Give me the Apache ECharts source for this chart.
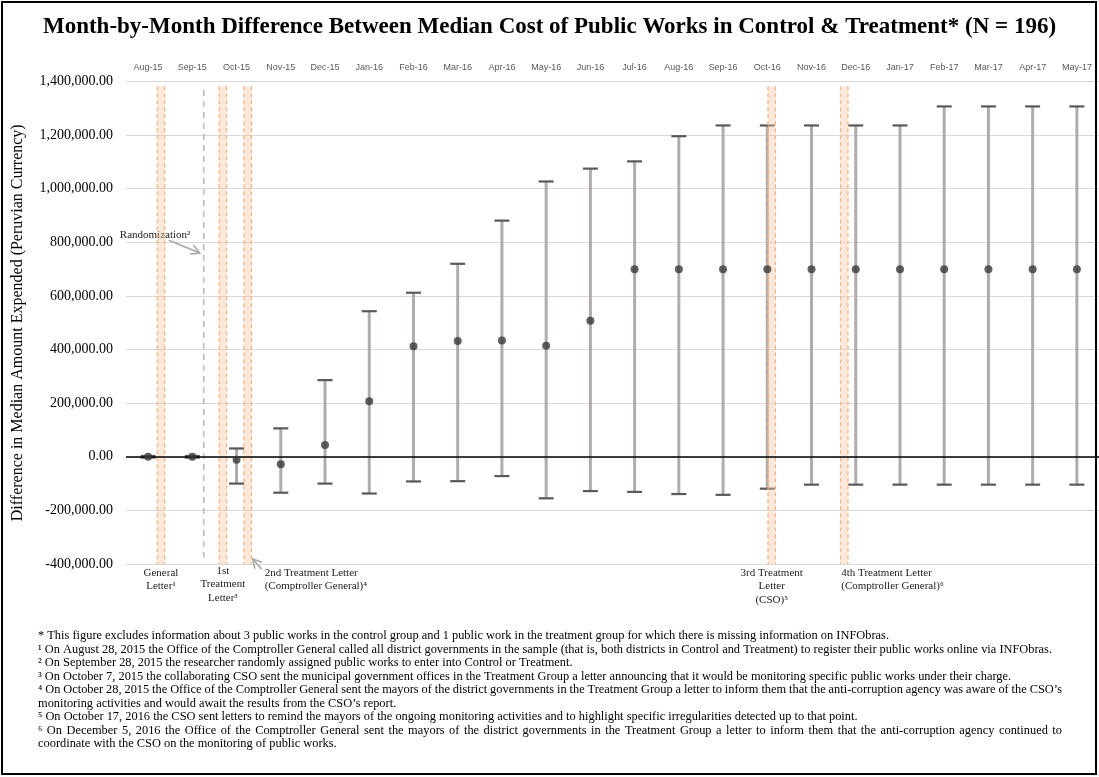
<!DOCTYPE html>
<html><head><meta charset="utf-8">
<script src="https://cdn.jsdelivr.net/npm/echarts@6/dist/echarts.min.js"></script>
<style>html,body{margin:0;padding:0;background:#fff}#c{width:1099px;height:777px}</style>
</head><body><div id="c"></div>
<script>
// ---------- data ----------
const months = ['Aug-15','Sep-15','Oct-15','Nov-15','Dec-15','Jan-16','Feb-16','Mar-16','Apr-16','May-16','Jun-16','Jul-16','Aug-16','Sep-16','Oct-16','Nov-16','Dec-16','Jan-17','Feb-17','Mar-17','Apr-17','May-17'];
const medianDiff = [0, 0, -11000, -28000, 44000, 207000, 412000, 432000, 434000, 414000, 507000, 700000, 700000, 700000, 700000, 700000, 700000, 700000, 700000, 700000, 700000, 700000];
const upperCI = [3000, 3000, 31000, 106000, 286000, 543000, 612000, 720000, 881000, 1027000, 1075000, 1102000, 1196000, 1236000, 1236000, 1236000, 1236000, 1236000, 1307000, 1307000, 1307000, 1307000];
const lowerCI = [-3000, -3000, -100000, -134000, -100000, -137000, -92000, -91000, -72000, -155000, -128000, -131000, -139000, -142000, -119000, -104000, -104000, -104000, -104000, -104000, -104000, -104000];
// event positions, in month-index units
const letterPos = [0.29, 1.69, 2.25, 14.10, 15.74];
const randomizationPos = 1.26;
const yMin = -400000, yMax = 1400000, yStep = 200000;

const footnotes = [
  ['* This figure excludes information about 3 public works in the control group and 1 public work in the treatment group for which there is missing information on INFObras.', false],
  ['\u00b9 On August 28, 2015 the Office of the Comptroller General called all district governments in the sample (that is, both districts in Control and Treatment) to register their public works online via INFObras.', false],
  ['\u00b2 On September 28, 2015 the researcher randomly assigned public works to enter into Control or Treatment.', false],
  ['\u00b3 On October 7, 2015 the collaborating CSO sent the municipal government offices in the Treatment Group a letter announcing that it would be monitoring specific public works under their charge.', false],
  ['\u2074 On October 28, 2015 the Office of the Comptroller General sent the mayors of the district governments in the Treatment Group a letter to inform them that the anti-corruption agency was aware of the CSO\u2019s', true],
  ['monitoring activities and would await the results from the CSO\u2019s report.', false],
  ['\u2075 On October 17, 2016 the CSO sent letters to remind the mayors of the ongoing monitoring activities and to highlight specific irregularities detected up to that point.', false],
  ['\u2076 On December 5, 2016 the Office of the Comptroller General sent the mayors of the district governments in the Treatment Group a letter to inform them that the anti-corruption agency continued to', true],
  ['coordinate with the CSO on the monitoring of public works.', false]
];

const SERIF = '"Liberation Serif", "Times New Roman", serif';
const chart = echarts.init(document.getElementById('c'), null, {renderer: 'canvas'});

const option = {
  animation: false,
  backgroundColor: '#fff',
  title: {
    text: 'Month-by-Month Difference Between Median Cost of Public Works in Control & Treatment* (N = 196)',
    left: 'center', top: 11,
    textStyle: {fontFamily: SERIF, fontWeight: 'bold', fontSize: 23, color: '#000'}
  },
  grid: {left: 126, top: 81.5, width: 974, height: 482.5},
  xAxis: [{
    type: 'category', data: months, position: 'top', boundaryGap: true,
    axisLine: {show: false}, axisTick: {show: false}, splitLine: {show: false},
    axisLabel: {color: '#595959', fontSize: 9, fontFamily: '"Liberation Sans", Arial, sans-serif', margin: 9, interval: 0}
  }, {
    type: 'value', min: -0.5, max: 21.5, show: false
  }],
  yAxis: {
    type: 'value', min: yMin, max: yMax, interval: yStep,
    name: 'Difference in Median Amount Expended (Peruvian Currency)',
    nameLocation: 'middle', nameGap: 100,
    nameTextStyle: {fontFamily: SERIF, fontSize: 16, color: '#000'},
    axisLine: {show: false}, axisTick: {show: false},
    axisLabel: {fontFamily: SERIF, fontSize: 14, color: '#000', margin: 13,
      formatter: v => v.toLocaleString('en-US', {minimumFractionDigits: 2, maximumFractionDigits: 2})},
    splitLine: {lineStyle: {color: '#d9d9d9', width: 1.2}}
  },
  series: [
    { // randomization dashed line
      type: 'custom', xAxisIndex: 1, z: 2, silent: true,
      data: [[randomizationPos, 0]],
      renderItem: (params, api) => {
        const t = api.coord([api.value(0), 1368000]);
        const b = api.coord([api.value(0), -376000]);
        return {type: 'line', shape: {x1: t[0], y1: t[1], x2: b[0], y2: b[1]},
          style: {stroke: '#a6a6a6', lineWidth: 1.2, lineDash: [6, 5]}};
      }
    },
    { // error bars
      type: 'custom', z: 3, silent: true,
      data: months.map((m, i) => [i, lowerCI[i], upperCI[i]]),
      encode: {x: 0, y: [1, 2]},
      renderItem: (params, api) => {
        const lo = api.coord([api.value(0), api.value(1)]);
        const hi = api.coord([api.value(0), api.value(2)]);
        const hw = 7.5;
        return {type: 'group', children: [
          {type: 'line', shape: {x1: lo[0], y1: lo[1], x2: hi[0], y2: hi[1]}, style: {stroke: '#b0acac', lineWidth: 3}},
          {type: 'line', shape: {x1: hi[0] - hw, y1: hi[1], x2: hi[0] + hw, y2: hi[1]}, style: {stroke: '#595959', lineWidth: 2.2}},
          {type: 'line', shape: {x1: lo[0] - hw, y1: lo[1], x2: lo[0] + hw, y2: lo[1]}, style: {stroke: '#595959', lineWidth: 2.2}}
        ]};
      }
    },
    { // letter bands
      type: 'custom', xAxisIndex: 1, z: 4, silent: true,
      data: letterPos.map(p => [p, 0]),
      renderItem: (params, api) => {
        const t = api.coord([api.value(0), 1382000]);
        const b = api.coord([api.value(0), yMin]);
        const w = 7.5;
        const x0 = t[0] - w / 2, x1 = t[0] + w / 2;
        return {type: 'group', children: [
          {type: 'rect', shape: {x: x0, y: t[1], width: w, height: b[1] - t[1]}, style: {fill: 'rgba(248,196,160,0.4)'}},
          {type: 'line', shape: {x1: x0, y1: t[1], x2: x0, y2: b[1]}, style: {stroke: '#f4b183', lineWidth: 1.2, lineDash: [4, 3]}},
          {type: 'line', shape: {x1: x1, y1: t[1], x2: x1, y2: b[1]}, style: {stroke: '#f4b183', lineWidth: 1.2, lineDash: [4, 3]}}
        ]};
      }
    },
    { // median points
      type: 'scatter', z: 6, silent: true,
      data: medianDiff, symbol: 'circle', symbolSize: 8,
      itemStyle: {color: '#3a3a3a'},
      markLine: {
        silent: true, symbol: 'none', label: {show: false},
        lineStyle: {color: '#000', width: 1.5, type: 'solid'},
        data: [{yAxis: 0}]
      }
    }
  ]
};
chart.setOption(option);

// ---------- annotations ----------
const px = v => chart.convertToPixel({xAxisIndex: 1}, v);
const py = v => chart.convertToPixel({yAxisIndex: 0}, v);
const gridBottom = py(yMin);
const annStyle = {fontFamily: SERIF, fontSize: 11, fill: '#222', lineHeight: 13.5};
const g = [];
function txt(x, y, text, align) {
  g.push({type: 'text', x: x, y: y, silent: true, style: Object.assign({text: text, align: align, verticalAlign: 'top'}, annStyle)});
}
function arrow(x1, y1, x2, y2) {
  const a = Math.atan2(y2 - y1, x2 - x1), L = 10, s = 0.5;
  g.push({type: 'polyline', silent: true, shape: {points: [[x1, y1], [x2, y2]]}, style: {stroke: '#a6a6a6', lineWidth: 1.5, fill: null}});
  g.push({type: 'polyline', silent: true, shape: {points: [
    [x2 - L * Math.cos(a - s), y2 - L * Math.sin(a - s)], [x2, y2],
    [x2 - L * Math.cos(a + s), y2 - L * Math.sin(a + s)]]}, style: {stroke: '#a6a6a6', lineWidth: 1.5, fill: null}});
}
const ty = gridBottom + 2;
txt(px(letterPos[0]), ty, 'General\nLetter\u00b9', 'center');
txt(px(letterPos[1]), ty - 2, '1st\nTreatment\nLetter\u00b3', 'center');
txt(px(letterPos[2]) + 17, ty, '2nd Treatment Letter\n(Comptroller General)\u2074', 'left');
txt(px(letterPos[3]), ty, '3rd Treatment\nLetter\n(CSO)\u2075', 'center');
txt(px(letterPos[4]) - 3, ty, '4th Treatment Letter\n(Comptroller General)\u2076', 'left');
txt(px(randomizationPos) - 84, py(840000) - 3, 'Randomization\u00b2', 'left');
arrow(px(randomizationPos) - 35, py(808000), px(randomizationPos) - 4, py(760000));
arrow(px(letterPos[2]) + 14, gridBottom + 5, px(letterPos[2]) + 5, gridBottom - 5);

// footnotes
const FN_SIZE = 12.4;
const ctx = document.createElement('canvas').getContext('2d');
ctx.font = FN_SIZE + 'px "Liberation Serif"';
const fnLeft = 38, fnWidth = 1024, fnTop = 636, fnLH = 13.5;
footnotes.forEach(([line, justify], i) => {
  const y = fnTop + i * fnLH;
  if (!justify) {
    g.push({type: 'text', x: fnLeft, y: y, silent: true, style: {text: line, fontFamily: SERIF, fontSize: FN_SIZE, fill: '#000', verticalAlign: 'middle', align: 'left'}});
  } else {
    const words = line.split(' ');
    const widths = words.map(w => ctx.measureText(w).width);
    const total = widths.reduce((a, b) => a + b, 0);
    const gap = Math.max(1.5, (fnWidth - total) / (words.length - 1));
    let x = fnLeft;
    words.forEach((w, k) => {
      g.push({type: 'text', x: x, y: y, silent: true, style: {text: w, fontFamily: SERIF, fontSize: FN_SIZE, fill: '#000', verticalAlign: 'middle', align: 'left'}});
      x += widths[k] + gap;
    });
  }
});
// frame
g.push({type: 'rect', silent: true, z: 100, shape: {x: 2, y: 2, width: 1094, height: 772}, style: {fill: null, stroke: '#000', lineWidth: 2}});
chart.setOption({graphic: g});
</script></body></html>
